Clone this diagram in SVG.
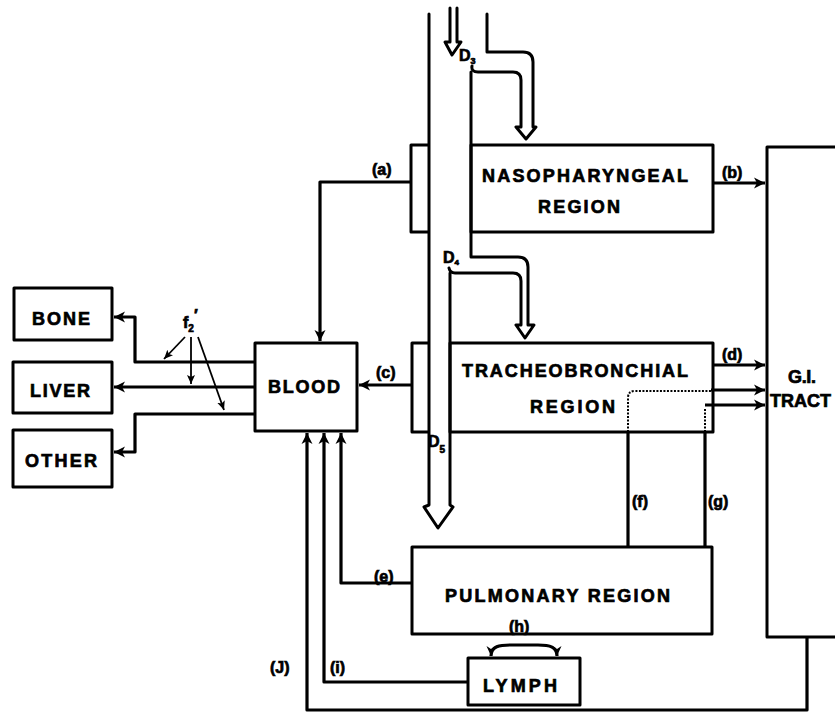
<svg xmlns="http://www.w3.org/2000/svg" width="835" height="718" viewBox="0 0 835 718">
<style>
  .box{fill:none;stroke:#000;stroke-width:3;stroke-linejoin:round}
  .wall{fill:none;stroke:#000;stroke-width:3;stroke-linejoin:round;stroke-linecap:round}
  .ln{fill:none;stroke:#000;stroke-width:3.2;stroke-linejoin:round}
  .thin{fill:none;stroke:#000;stroke-width:1.8}
  .dot{fill:none;stroke:#000;stroke-width:2;stroke-dasharray:2 1.5}
  .t{font-family:"Liberation Sans",Arial,sans-serif;font-weight:bold;fill:#000;stroke:#000;stroke-width:0.7}
  .big{font-size:18px}
  .lab{font-size:16px}
</style>
<defs>
  <marker id="ah" markerUnits="userSpaceOnUse" markerWidth="13" markerHeight="13" refX="11" refY="6.5" orient="auto">
    <path d="M0,1 L11,6.5 L0,12 L3,6.5 z" fill="#000"/>
  </marker>
  <marker id="ah2" markerUnits="userSpaceOnUse" markerWidth="12" markerHeight="12" refX="10" refY="6" orient="auto-start-reverse">
    <path d="M0,1.5 L10,6 L0,10.5 L3,6 z" fill="#000"/>
  </marker>
  <marker id="ahs" markerUnits="userSpaceOnUse" markerWidth="10" markerHeight="10" refX="9" refY="5" orient="auto">
    <path d="M0,1 L9,5 L0,9 L2,5 z" fill="#000"/>
  </marker>
</defs>
<rect width="835" height="718" fill="#fff"/>

<g id="airway">
  <path class="wall" d="M429,14 V505 L424,507 L438,528 L453,507 L450,505 V273"/>
  <path class="wall" stroke-width="2.4" d="M450,8 V42 H445 L452,55 L461,42 H457 V8"/>
  <path class="wall" d="M487,14 V52 H523 Q533,52 533,62 V127 H536 L526,139 L516,127 H521 V80 Q521,72 513,72 H478 Q471,72 472,66"/>
  <path class="wall" d="M471,72 V257 H518 Q528,257 528,267 V325 H534 L525,338 L516,325 H521 V281 Q521,273 513,273 H455 Q450,273 449,268"/>
  <text class="t lab" x="459" y="61">D<tspan font-size="9" dy="3">3</tspan></text>
  <text class="t lab" x="443" y="263">D<tspan font-size="8" dy="2">4</tspan></text>
  <text class="t lab" x="428" y="447">D<tspan font-size="10" dy="6">5</tspan></text>
</g>

<g id="nasopharyngeal">
  <path class="box" d="M429,145 H411 V232 H429"/>
  <rect class="box" x="471" y="145" width="242" height="87"/>
  <text class="t big" x="482" y="182" textLength="206">NASOPHARYNGEAL</text>
  <text class="t big" x="538" y="213" textLength="82">REGION</text>
</g>

<g id="tracheobronchial">
  <path class="box" d="M429,343 H412 V432 H429"/>
  <rect class="box" x="450" y="343" width="263" height="89"/>
  <text class="t big" x="462" y="377" textLength="226">TRACHEOBRONCHIAL</text>
  <text class="t big" x="530" y="413" textLength="85">REGION</text>
</g>

<g id="pulmonary">
  <rect class="box" x="412" y="547" width="300" height="87"/>
  <text class="t big" x="445" y="602" textLength="225">PULMONARY REGION</text>
  <text class="t lab" x="509" y="632">(h)</text>
</g>

<g id="lymph">
  <rect class="box" x="468" y="658" width="112" height="47"/>
  <text class="t big" x="483" y="692" textLength="74">LYMPH</text>
</g>

<g id="gi-tract">
  <rect class="box" x="767" y="147" width="100" height="490"/>
  <text class="t big" x="788" y="383" textLength="28">G.I.</text>
  <text class="t big" x="770" y="407">TRACT</text>
</g>

<g id="blood">
  <rect class="box" x="255" y="343" width="102" height="88"/>
  <text class="t big" x="268" y="393" textLength="72">BLOOD</text>
</g>

<g id="bone">
  <rect class="box" x="14" y="288" width="98" height="52"/>
  <text class="t big" x="32" y="325" textLength="58">BONE</text>
</g>

<g id="liver">
  <rect class="box" x="13" y="362" width="99" height="51"/>
  <text class="t big" x="30" y="397" textLength="60">LIVER</text>
</g>

<g id="other">
  <rect class="box" x="13" y="430" width="99" height="57"/>
  <text class="t big" x="25" y="467" textLength="72">OTHER</text>
</g>

<g id="connectors">
  <path class="ln" d="M411,182 H320 V341" marker-end="url(#ah)"/>
  <text class="t lab" x="372" y="175">(a)</text>
  <path class="ln" d="M713,183 H765" marker-end="url(#ah)"/>
  <text class="t lab" x="722" y="178">(b)</text>
  <path class="ln" d="M412,385 H359" marker-end="url(#ah)"/>
  <text class="t lab" x="376" y="378">(c)</text>
  <path class="ln" d="M713,365 H765" marker-end="url(#ah)"/>
  <text class="t lab" x="722" y="360">(d)</text>
  <path class="ln" d="M628,547 V432"/>
  <path class="dot" d="M628,432 V398 Q628,391 635,391 H711"/>
  <path class="ln" d="M711,390 H765" marker-end="url(#ah)"/>
  <text class="t lab" x="632" y="507">(f)</text>
  <path class="ln" d="M705,547 V432"/>
  <path class="dot" d="M705,432 V408"/>
  <path class="ln" d="M705,405 H765" marker-end="url(#ah)"/>
  <text class="t lab" x="708" y="507">(g)</text>
  <path class="ln" d="M412,583 H341 V433" marker-end="url(#ah)"/>
  <text class="t lab" x="374" y="582">(e)</text>
  <path class="ln" d="M468,682 H324 V433" marker-end="url(#ah)"/>
  <text class="t lab" x="330" y="673">(i)</text>
  <path class="ln" d="M807,637 V710 H307 V433" marker-end="url(#ah)"/>
  <text class="t lab" x="270" y="673">(J)</text>
  <path class="ln" stroke-width="2.4" d="M491,656 C491,646 500,645 510,645 H538 C550,645 557,647 557,656" marker-start="url(#ah2)" marker-end="url(#ah2)"/>
  <path class="ln" d="M255,362 H135 V317 H114" marker-end="url(#ah)"/>
  <path class="ln" d="M255,387 H114" marker-end="url(#ah)"/>
  <path class="ln" d="M255,414 H135 V452 H114" marker-end="url(#ah)"/>
  <path class="thin" d="M185,337 L164,359" marker-end="url(#ahs)"/>
  <path class="thin" d="M191,337 V384" marker-end="url(#ahs)"/>
  <path class="thin" d="M198,337 L224,410" marker-end="url(#ahs)"/>
  <text class="t lab" x="183" y="328">f<tspan font-size="10" dy="4">2</tspan><tspan dy="-11">′</tspan></text>
</g>
</svg>
